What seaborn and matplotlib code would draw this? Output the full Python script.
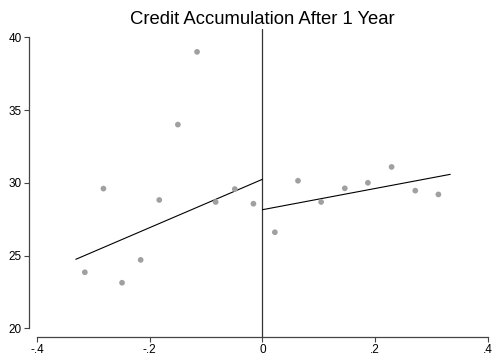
import numpy as np
import pandas as pd
import matplotlib
matplotlib.use("Agg")
import matplotlib.pyplot as plt
import seaborn as sns

# binned means, left and right of the cutoff
left_x = [-0.315, -0.282, -0.249, -0.216, -0.183, -0.150, -0.116, -0.083, -0.049, -0.016]
left_y = [23.85, 29.60, 23.13, 24.70, 28.82, 34.00, 39.00, 28.68, 29.57, 28.56]
right_x = [0.022, 0.063, 0.104, 0.146, 0.187, 0.229, 0.271, 0.312]
right_y = [26.60, 30.14, 28.68, 29.62, 30.00, 31.09, 29.46, 29.20]

# linear fits (end points)
fit_left_x = [-0.331, 0.0]
fit_left_y = [24.74, 30.24]
fit_right_x = [0.0, 0.333]
fit_right_y = [28.15, 30.58]

x_ticks = [-0.4, -0.2, 0.0, 0.2, 0.4]
x_labels = ["-.4", "-.2", "0", ".2", ".4"]
y_ticks = [20, 25, 30, 35, 40]

sns.set_style("ticks")
plt.rcParams['font.family'] = ['Liberation Sans', 'DejaVu Sans']

pts = pd.DataFrame({"x": left_x + right_x, "y": left_y + right_y})

fig = plt.figure(figsize=(4.94, 3.62), dpi=100)
ax = fig.add_axes([29 / 494, 25 / 362, 461 / 494, 307.7 / 362])

sns.scatterplot(data=pts, x="x", y="y", ax=ax, color="#a0a0a0", s=17,
                edgecolor="none", zorder=3)
sns.lineplot(x=fit_left_x, y=fit_left_y, ax=ax, color="black", linewidth=0.8)
sns.lineplot(x=fit_right_x, y=fit_right_y, ax=ax, color="black", linewidth=0.8)
ax.axvline(0, color="#333333", linewidth=0.9, zorder=1)

ax.set_xlim(-0.414, 0.4035)
ax.set_ylim(19.4, 40.55)
ax.set_xticks(x_ticks)
ax.set_xticklabels(x_labels)
ax.set_yticks(y_ticks)
ax.set_yticklabels([str(t) for t in y_ticks])
ax.set_xlabel("")
ax.set_ylabel("")

sns.despine(ax=ax)
ax.spines["left"].set_bounds(20, 40)
ax.spines["bottom"].set_bounds(-0.4, 0.4)
for s in ["left", "bottom"]:
    ax.spines[s].set_color("#444444")
    ax.spines[s].set_linewidth(0.9)
ax.tick_params(axis="both", length=3.5, width=0.8, color="#444444",
               labelcolor="black", labelsize=8.5, pad=1.5)

fig.text(262 / 494, 1 - 24 / 362, "Credit Accumulation After 1 Year",
         ha="center", va="baseline", fontsize=13.3, color="black")

fig.savefig("out.png", dpi=100)
